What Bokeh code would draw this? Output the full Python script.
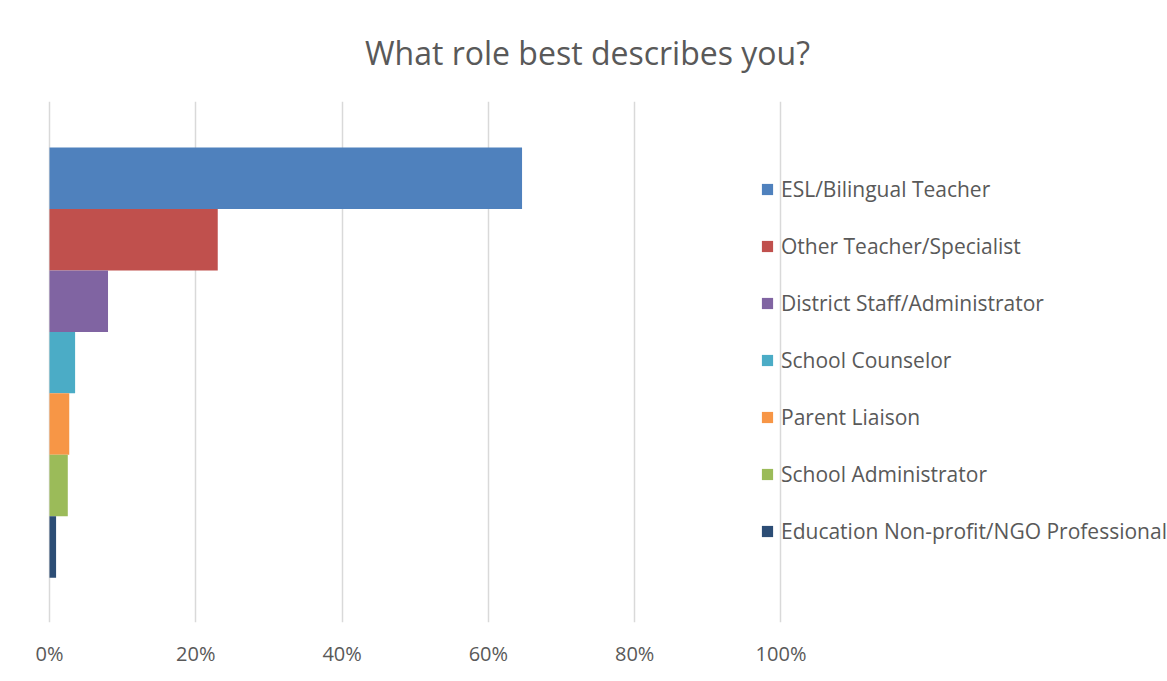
from bokeh.plotting import figure
from bokeh.models import Range1d, FixedTicker, CustomJSTickFormatter, Legend, LegendItem, ColumnDataSource, Title
from bokeh.embed import file_html
from bokeh.resources import INLINE

roles = ["ESL/Bilingual Teacher", "Other Teacher/Specialist", "District Staff/Administrator",
         "School Counselor", "Parent Liaison", "School Administrator",
         "Education Non-profit/NGO Professional"]
shares = [64.6, 23.0, 8.0, 3.5, 2.7, 2.5, 0.9]
colors = ["#4F81BD", "#C0504D", "#8064A2", "#4BACC6", "#F79646", "#9BBB59", "#2C4D75"]
x_ticks = [0, 20, 40, 60, 80, 100]
tick_labels = ["0%", "20%", "40%", "60%", "80%", "100%"]
title_text = "What role best describes you?"

FONT = "Open Sans"
TXT = "#595959"

n = len(roles)
src = ColumnDataSource(dict(
    role=roles, share=shares, color=colors,
    pos=[n - 1 - i for i in range(n)],
))

# frame spans nearly the whole width so the legend (drawn inside it) is not clipped
p = figure(width=1167, height=681, output_backend="svg", toolbar_location=None,
           x_range=Range1d(-5.605, 152.70), y_range=Range1d(-1.23, 7.25),
           min_border_left=8, min_border_right=1, min_border_top=101, min_border_bottom=59,
           outline_line_color=None, background_fill_color="white", border_fill_color="white")

r = p.hbar(y="pos", left=0, right="share", height=1.0, color="color", line_color=None, source=src)

p.yaxis.visible = False
p.ygrid.visible = False
p.xgrid.ticker = FixedTicker(ticks=x_ticks)
p.xgrid.grid_line_color = "#D9D9D9"
p.xgrid.grid_line_width = 1.5
p.xaxis.ticker = FixedTicker(ticks=x_ticks)
p.xaxis.formatter = CustomJSTickFormatter(
    args=dict(tk=x_ticks, lb=tick_labels),
    code="const i = tk.indexOf(tick); return i >= 0 ? lb[i] : '';")
p.xaxis.axis_line_color = None
p.xaxis.major_tick_line_color = None
p.xaxis.minor_tick_line_color = None
p.xaxis.major_label_text_font = FONT
p.xaxis.major_label_text_font_size = "20px"
p.xaxis.major_label_text_color = TXT
p.xaxis.major_label_standoff = 11

items = [LegendItem(label=roles[i], renderers=[r], index=i) for i in range(n)]
legend = Legend(items=items, location=(752, 77), orientation="vertical",
                glyph_width=14, glyph_height=14, label_standoff=7, label_height=20,
                spacing=29, padding=0, margin=0, border_line_color=None,
                background_fill_alpha=0, label_text_font=FONT,
                label_text_font_size="21px", label_text_color=TXT)
p.add_layout(legend, "center")

t = Title(text=title_text, align="center", standoff=55, text_font=FONT,
          text_font_size="32px", text_font_style="normal", text_color=TXT)
p.add_layout(t, "above")

open("out.html", "w").write(file_html(p, INLINE))
